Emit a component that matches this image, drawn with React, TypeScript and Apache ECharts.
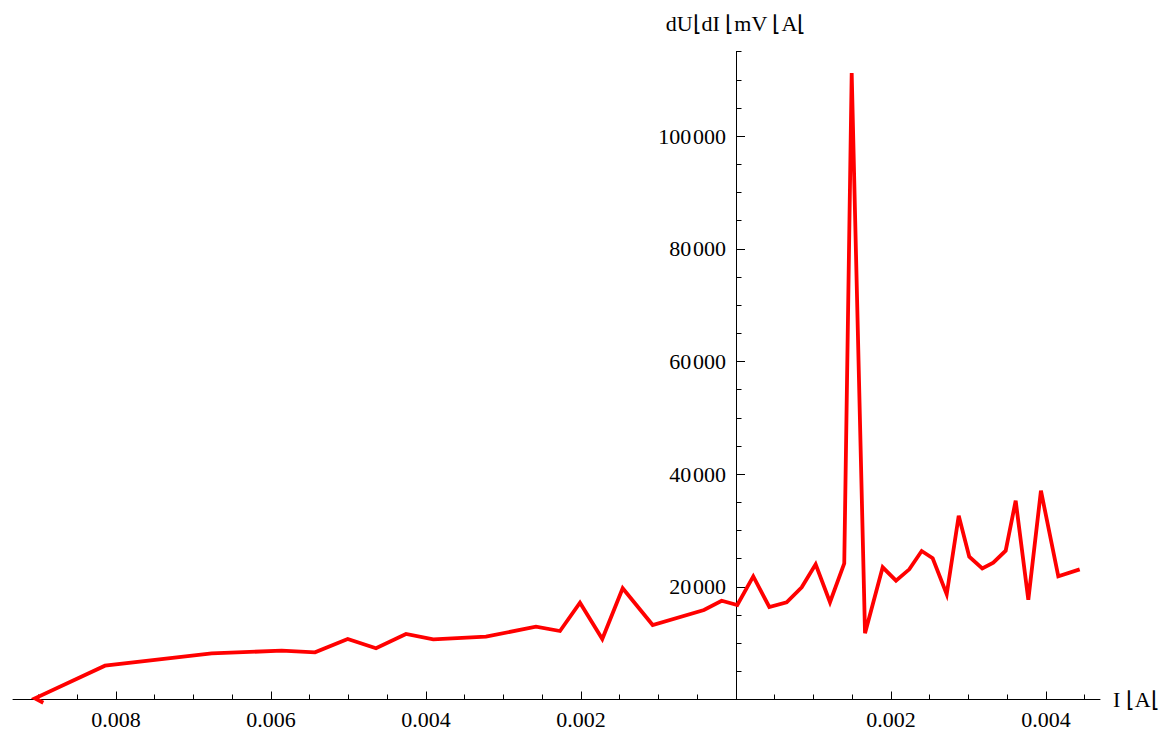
import React, { useEffect, useRef } from "react";
import * as echarts from "echarts";

// Data (current I in A, differential resistance dU/dI in mV/A)
const currentA: number[] = [
  -0.008938, -0.009045, -0.008142, -0.006765, -0.005862, -0.005432, -0.00501, -0.004645,
  -0.004258, -0.003906, -0.003226, -0.002581, -0.002271, -0.002013, -0.001725, -0.001462,
  -0.001075, -0.000413, -0.000185, 0.000017, 0.000223, 0.00043, 0.000654, 0.000848,
  0.001028, 0.001213, 0.001397, 0.001493, 0.001665, 0.001893, 0.002065, 0.002236,
  0.002396, 0.002538, 0.002719, 0.002874, 0.00301, 0.003178, 0.00332, 0.00348,
  0.003609, 0.003772, 0.003935, 0.004159, 0.004435,
];
const dUdI: number[] = [
  -570, 210, 6000, 8200, 8660, 8380, 10740, 9090,
  11630, 10690, 11150, 12920, 12160, 17180, 10740, 19740,
  13230, 15890, 17540, 16780, 21850, 16420, 17260, 19920,
  24000, 17260, 24180, 111200, 11750, 23470, 21090, 23110,
  26360, 25070, 18680, 32630, 25350, 23260, 24290, 26420,
  35290, 17720, 37070, 21870, 23110,
];

const xMajorTicks: number[] = [-0.008, -0.006, -0.004, -0.002, 0.002, 0.004];
const xMinorTicks: number[] = [
  -0.009, -0.0085, -0.0075, -0.007, -0.0065, -0.0055, -0.005, -0.0045, -0.0035, -0.003,
  -0.0025, -0.0015, -0.001, -0.0005, 0.0005, 0.001, 0.0015, 0.0025, 0.003, 0.0035, 0.0045,
];
const yMajorTicks: number[] = [20000, 40000, 60000, 80000, 100000];
const yMinorTicks: number[] = [
  5000, 10000, 15000, 25000, 30000, 35000, 45000, 50000, 55000, 65000, 70000, 75000,
  85000, 90000, 95000, 105000, 110000, 115000,
];

const X_MIN = -0.009329;
const X_MAX = 0.004697;
const Y_MIN = 0;
const Y_MAX = 115000;

const xName = "I \u230AA\u230A";
const yName = "dU\u230AdI \u230AmV \u230AA\u230A";

const FONT = "'Liberation Serif', 'Times New Roman', serif";

export default function App() {
  const ref = useRef<HTMLDivElement>(null);

  useEffect(() => {
    if (!ref.current) return;
    const chart = echarts.init(ref.current, undefined, { renderer: "svg" });
    const axisLineStyle = { color: "#000", width: 1 };
    const pairs = currentA.map((x, i) => [x, dUdI[i]]);
    const textStyle = { fontFamily: FONT, fontSize: 22, color: "#000" };

    chart.setOption({
      animation: false,
      backgroundColor: "#fff",
      grid: [
        { left: 13, top: 51.7, width: 1087, height: 647.8, containLabel: false, outerBoundsMode: "none" },
        { left: 736, top: 51.7, width: 364, height: 647.8, containLabel: false, outerBoundsMode: "none" },
      ],
      xAxis: [
        {
          gridIndex: 0,
          type: "value",
          min: X_MIN,
          max: X_MAX,
          position: "bottom",
          axisLine: { show: true, onZero: false, lineStyle: axisLineStyle },
          axisTick: { show: true, inside: true, length: 8, customValues: xMajorTicks, lineStyle: axisLineStyle },
          axisLabel: {
            show: true,
            customValues: xMajorTicks,
            formatter: (v: number) => Math.abs(v).toFixed(3),
            ...textStyle,
            margin: 9,
          },
          splitLine: { show: false },
          name: xName,
          nameLocation: "end",
          nameGap: 13,
          nameTextStyle: textStyle,
        },
        {
          gridIndex: 0,
          type: "value",
          min: X_MIN,
          max: X_MAX,
          position: "bottom",
          axisLine: { show: false, onZero: false },
          axisTick: { show: true, inside: true, length: 5, customValues: xMinorTicks, lineStyle: axisLineStyle },
          axisLabel: { show: false },
          splitLine: { show: false },
        },
        {
          gridIndex: 1,
          type: "value",
          min: 0,
          max: 1,
          show: false,
        },
      ],
      yAxis: [
        {
          gridIndex: 0,
          type: "value",
          min: Y_MIN,
          max: Y_MAX,
          show: false,
        },
        {
          gridIndex: 1,
          type: "value",
          min: Y_MIN,
          max: Y_MAX,
          position: "left",
          axisLine: { show: true, onZero: false, lineStyle: axisLineStyle },
          axisTick: { show: true, inside: true, length: 9, customValues: yMajorTicks, lineStyle: axisLineStyle },
          axisLabel: {
            show: true,
            customValues: yMajorTicks,
            formatter: (v: number) => {
              const s = String(Math.round(v));
              return s.slice(0, s.length - 3) + "\u200A" + s.slice(s.length - 3);
            },
            ...textStyle,
            margin: 10,
          },
          splitLine: { show: false },
          name: yName,
          nameLocation: "end",
          nameGap: 17,
          nameTextStyle: { ...textStyle, align: "center" },
        },
        {
          gridIndex: 1,
          type: "value",
          min: Y_MIN,
          max: Y_MAX,
          position: "left",
          axisLine: { show: false, onZero: false },
          axisTick: { show: true, inside: true, length: 5.5, customValues: yMinorTicks, lineStyle: axisLineStyle },
          axisLabel: { show: false },
          splitLine: { show: false },
        },
      ],
      series: [
        {
          type: "line",
          xAxisIndex: 0,
          yAxisIndex: 0,
          data: pairs,
          showSymbol: false,
          symbol: "none",
          clip: false,
          z: 5,
          lineStyle: { color: "#ff0000", width: 3.8, join: "miter" },
        },
      ],
    });

    return () => {
      chart.dispose();
    };
  }, []);

  return (
    <div
      ref={ref}
      style={{ position: "fixed", left: 0, top: 0, width: 1168, height: 732, background: "#fff" }}
    />
  );
}
